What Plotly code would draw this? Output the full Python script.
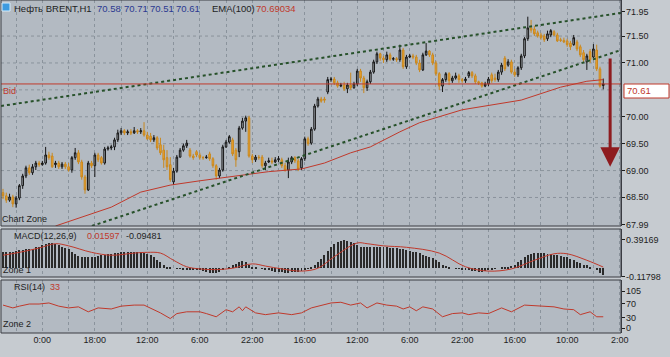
import plotly.graph_objects as go

# ---------------- data ----------------
open_ = [
    68.59, 68.53, 68.45, 68.51, 68.38, 68.49, 68.72, 68.90, 69.05, 68.96,
    69.07, 69.14, 69.11, 69.14, 69.29, 69.27, 69.11, 69.14, 69.07, 69.12,
    69.07, 69.01, 69.24, 69.33, 69.16, 68.88, 68.64, 69.14, 69.09, 69.29,
    69.24, 69.14, 69.40, 69.42, 69.44, 69.57, 69.70, 69.74, 69.70, 69.72,
    69.70, 69.74, 69.72, 69.74, 69.66, 69.64, 69.57, 69.61, 69.48, 69.38,
    69.24, 69.11, 68.79, 68.99, 69.25, 69.38, 69.46, 69.38, 69.27, 69.35,
    69.29, 69.24, 69.24, 69.31, 69.22, 69.09, 68.90, 69.01, 69.44, 69.53,
    69.57, 69.38, 69.35, 69.79, 69.92, 69.98, 69.27, 69.20, 69.25, 69.25,
    69.09, 69.16, 69.18, 69.16, 69.20, 69.20, 69.09, 69.01, 69.16, 69.24,
    69.18, 69.05, 69.22, 69.59, 69.51, 69.77, 70.20, 70.33, 70.33, 70.46,
    70.69, 70.70, 70.63, 70.57, 70.59, 70.52, 70.59, 70.54, 70.61, 70.85,
    70.72, 70.54, 70.65, 70.83, 71.02, 71.17, 71.09, 71.06, 71.15, 71.07,
    71.08, 71.06, 71.24, 70.93, 71.11, 71.13, 71.11, 71.00, 70.87, 71.15,
    71.22, 71.15, 71.00, 70.80, 70.57, 70.69, 70.80, 70.67, 70.72, 70.76,
    70.69, 70.67, 70.76, 70.82, 70.76, 70.65, 70.63, 70.57, 70.61, 70.78,
    70.72, 70.69, 70.83, 71.09, 70.96, 71.02, 70.83, 70.78, 70.91, 71.13,
    71.45, 71.65, 71.63, 71.56, 71.52, 71.50, 71.45, 71.52, 71.58, 71.52,
    71.43, 71.42, 71.41, 71.37, 71.34, 71.39, 71.30, 71.19, 71.02, 71.21,
    71.11, 71.24, 70.89, 70.58,
]
high = [
    68.66, 68.59, 68.57, 68.55, 68.53, 68.75, 68.94, 69.09, 69.11, 69.12,
    69.18, 69.18, 69.18, 69.44, 69.35, 69.33, 69.18, 69.18, 69.16, 69.16,
    69.14, 69.27, 69.42, 69.38, 69.20, 68.92, 69.18, 69.18, 69.33, 69.33,
    69.27, 69.44, 69.46, 69.48, 69.61, 69.76, 69.79, 69.77, 69.76, 69.77,
    69.81, 69.77, 69.79, 69.90, 69.72, 69.70, 69.66, 69.64, 69.61, 69.48,
    69.38, 69.25, 69.05, 69.29, 69.42, 69.50, 69.57, 69.42, 69.31, 69.38,
    69.33, 69.27, 69.29, 69.35, 69.25, 69.12, 69.05, 69.48, 69.57, 69.66,
    69.61, 69.42, 69.83, 69.98, 70.02, 70.02, 69.31, 69.29, 69.29, 69.29,
    69.18, 69.24, 69.24, 69.25, 69.27, 69.24, 69.14, 69.24, 69.27, 69.27,
    69.22, 69.25, 69.63, 69.63, 69.81, 70.24, 70.37, 70.37, 70.37, 70.74,
    70.74, 70.74, 70.67, 70.63, 70.65, 70.63, 70.82, 70.65, 70.89, 70.89,
    70.76, 70.69, 70.87, 71.06, 71.21, 71.19, 71.13, 71.21, 71.19, 71.11,
    71.11, 71.34, 71.28, 71.15, 71.17, 71.17, 71.15, 71.06, 71.19, 71.37,
    71.24, 71.19, 71.04, 70.83, 70.72, 70.83, 70.83, 70.76, 70.82, 70.80,
    70.72, 70.74, 70.85, 70.85, 70.80, 70.67, 70.65, 70.65, 70.74, 70.82,
    70.80, 70.87, 71.00, 71.13, 71.07, 71.06, 70.89, 70.94, 71.17, 71.48,
    71.86, 71.80, 71.69, 71.60, 71.56, 71.54, 71.60, 71.63, 71.61, 71.56,
    71.47, 71.47, 71.45, 71.41, 71.52, 71.43, 71.34, 71.24, 71.17, 71.26,
    71.35, 71.34, 70.93, 70.71,
]
low = [
    68.47, 68.40, 68.42, 68.32, 68.31, 68.45, 68.66, 68.86, 68.92, 68.92,
    69.01, 69.07, 69.09, 69.11, 69.20, 69.05, 69.05, 69.03, 69.03, 69.03,
    68.98, 68.96, 69.20, 69.12, 68.83, 68.57, 68.62, 69.05, 68.88, 69.16,
    69.11, 69.11, 69.37, 69.38, 69.38, 69.53, 69.66, 69.66, 69.66, 69.66,
    69.68, 69.68, 69.68, 69.63, 69.57, 69.53, 69.53, 69.38, 69.29, 69.05,
    69.01, 68.79, 68.73, 68.96, 69.24, 69.35, 69.42, 69.24, 69.20, 69.25,
    69.20, 69.20, 69.22, 69.18, 69.05, 68.83, 68.86, 68.98, 69.42, 69.50,
    69.27, 69.07, 69.25, 69.76, 69.72, 69.24, 69.14, 69.16, 69.20, 69.05,
    69.01, 69.14, 69.12, 69.14, 69.16, 69.05, 68.98, 68.86, 69.12, 69.14,
    68.99, 69.01, 69.18, 69.46, 69.48, 69.74, 70.17, 70.26, 70.26, 70.42,
    70.65, 70.59, 70.54, 70.55, 70.48, 70.44, 70.50, 70.52, 70.57, 70.65,
    70.44, 70.48, 70.61, 70.80, 70.98, 71.04, 71.00, 71.02, 71.04, 71.04,
    71.02, 71.02, 70.89, 70.89, 71.09, 71.07, 70.96, 70.83, 70.85, 71.13,
    71.11, 70.96, 70.76, 70.50, 70.46, 70.65, 70.59, 70.63, 70.69, 70.63,
    70.63, 70.63, 70.72, 70.72, 70.61, 70.59, 70.54, 70.55, 70.57, 70.63,
    70.65, 70.65, 70.78, 70.85, 70.93, 70.80, 70.74, 70.74, 70.87, 71.09,
    71.41, 71.56, 71.50, 71.47, 71.43, 71.39, 71.41, 71.48, 71.50, 71.39,
    71.39, 71.37, 71.30, 71.24, 71.32, 71.22, 71.11, 71.02, 70.87, 71.00,
    71.09, 70.85, 70.54, 70.51,
]
close = [
    68.53, 68.45, 68.51, 68.38, 68.49, 68.72, 68.90, 69.05, 68.96, 69.07,
    69.14, 69.11, 69.14, 69.29, 69.24, 69.07, 69.14, 69.07, 69.12, 69.07,
    69.01, 69.24, 69.33, 69.16, 68.88, 68.64, 69.14, 69.09, 69.29, 69.20,
    69.14, 69.40, 69.42, 69.44, 69.57, 69.70, 69.74, 69.70, 69.72, 69.70,
    69.74, 69.72, 69.74, 69.66, 69.59, 69.57, 69.61, 69.42, 69.33, 69.20,
    69.07, 68.83, 68.99, 69.25, 69.38, 69.46, 69.51, 69.27, 69.24, 69.29,
    69.24, 69.24, 69.25, 69.22, 69.09, 68.90, 69.01, 69.44, 69.53, 69.63,
    69.31, 69.20, 69.79, 69.92, 69.98, 69.27, 69.20, 69.25, 69.24, 69.09,
    69.14, 69.18, 69.16, 69.20, 69.22, 69.09, 69.01, 69.16, 69.24, 69.18,
    69.03, 69.22, 69.59, 69.50, 69.77, 70.20, 70.33, 70.29, 70.31, 70.69,
    70.70, 70.63, 70.57, 70.59, 70.52, 70.59, 70.54, 70.61, 70.85, 70.72,
    70.54, 70.65, 70.83, 71.02, 71.17, 71.09, 71.06, 71.15, 71.07, 71.08,
    71.06, 71.24, 70.93, 71.11, 71.13, 71.11, 71.00, 70.87, 71.15, 71.22,
    71.15, 71.00, 70.80, 70.57, 70.69, 70.80, 70.67, 70.72, 70.76, 70.69,
    70.67, 70.70, 70.82, 70.76, 70.65, 70.63, 70.57, 70.61, 70.70, 70.67,
    70.69, 70.83, 70.96, 70.89, 71.02, 70.83, 70.78, 70.91, 71.13, 71.45,
    71.65, 71.61, 71.54, 71.50, 71.47, 71.43, 71.54, 71.60, 71.52, 71.41,
    71.42, 71.39, 71.34, 71.30, 71.47, 71.26, 71.15, 71.06, 71.13, 71.06,
    71.26, 70.89, 70.57, 70.61,
]
bar_index = list(range(len(close)))

ema_x = [16, 23, 33, 42, 51, 60, 69, 81, 91, 98, 106, 112, 121, 127, 140, 158, 170, 178, 183]
ema_v = [67.97, 68.12, 68.32, 68.60, 68.73, 68.81, 68.88, 68.98, 69.03, 69.14,
         69.33, 69.44, 69.72, 69.89, 70.13, 70.31, 70.55, 70.66, 70.69034]

upper_x = [-0.61, 188.41]
upper_v = [70.20, 71.93]
lower_x = [27.1, 188.41]
lower_v = [67.97, 71.24]

bid_price = 70.61
arrow_x = 185.1
arrow_from = 71.11
arrow_to = 69.07

macd_hist = [
    0.22, 0.22, 0.23, 0.23, 0.24, 0.25, 0.25, 0.26, 0.27, 0.27,
    0.29, 0.30, 0.32, 0.34, 0.35, 0.35, 0.34, 0.32, 0.30, 0.28,
    0.26, 0.23, 0.20, 0.17, 0.16, 0.15, 0.15, 0.16, 0.16, 0.17,
    0.18, 0.19, 0.20, 0.20, 0.21, 0.21, 0.22, 0.22, 0.23, 0.23,
    0.23, 0.22, 0.22, 0.21, 0.20, 0.18, 0.15, 0.12, 0.08, 0.05,
    0.02, 0.01, 0.00, -0.01, -0.01, -0.02, -0.02, -0.02, -0.03, -0.03,
    -0.03, -0.04, -0.05, -0.06, -0.07, -0.06, -0.05, -0.02, 0.00, 0.02,
    0.04, 0.06, 0.09, 0.10, 0.08, 0.04, 0.02, 0.01, 0.00, -0.01,
    -0.02, -0.03, -0.04, -0.05, -0.05, -0.05, -0.06, -0.06, -0.05, -0.05,
    -0.05, -0.04, -0.03, -0.01, 0.02, 0.05, 0.09, 0.13, 0.18, 0.24,
    0.29, 0.33, 0.36, 0.38, 0.39, 0.38, 0.37, 0.35, 0.32, 0.30,
    0.29, 0.29, 0.29, 0.29, 0.29, 0.29, 0.29, 0.29, 0.28, 0.28,
    0.28, 0.27, 0.26, 0.25, 0.24, 0.23, 0.22, 0.21, 0.19, 0.17,
    0.16, 0.14, 0.11, 0.08, 0.05, 0.03, 0.01, 0.00, -0.01, -0.01,
    -0.02, -0.02, -0.03, -0.04, -0.04, -0.05, -0.05, -0.04, -0.03, -0.02,
    -0.01, 0.00, 0.01, 0.02, 0.02, 0.03, 0.05, 0.08, 0.12, 0.15,
    0.18, 0.20, 0.21, 0.21, 0.21, 0.21, 0.20, 0.20, 0.19, 0.18,
    0.17, 0.16, 0.15, 0.13, 0.11, 0.09, 0.07, 0.05, 0.04, 0.02,
    0.00, -0.03, -0.06, -0.09481,
]
signal_x = [0, 5, 11, 16, 20, 27, 33, 40, 44, 48, 52, 56, 60, 65, 70, 76, 80, 85, 91,
            96, 101, 108, 111, 116, 123, 133, 141, 148, 155, 162, 168, 172, 178, 183]
signal_v = [0.18, 0.22, 0.28, 0.34, 0.31, 0.22, 0.18, 0.21, 0.22, 0.21, 0.11, 0.02, -0.01,
            -0.02, 0.00, 0.06, 0.03, -0.01, -0.04, 0.00, 0.16, 0.35, 0.34, 0.31, 0.29, 0.21,
            0.02, -0.04, -0.01, 0.11, 0.20, 0.20, 0.11, 0.01597]

rsi_x = [0, 3, 5, 8, 11, 14, 17, 20, 23, 26, 29, 33, 36, 40, 43, 45, 48, 51, 53, 56, 60,
         62, 65, 68, 70, 72, 73, 74, 77, 80, 84, 88, 91, 94, 97, 100, 103, 106, 109, 111,
         114, 117, 120, 122, 124, 126, 128, 131, 134, 137, 140, 142, 145, 148, 152, 155,
         159, 163, 168, 171, 174, 176, 179, 181, 183]
rsi_v = [66, 58, 63, 69, 69, 72, 63, 58, 61, 47, 58, 55, 63, 66, 66, 58, 44, 28, 42, 47, 47,
         42, 33, 53, 47, 61, 50, 61, 44, 39, 44, 39, 44, 58, 66, 72, 74, 66, 72, 58,
         72, 66, 63, 55, 61, 50, 61, 55, 33, 42, 44, 39, 44, 42, 58, 47,
         66, 63, 61, 55, 53, 39, 47, 33, 33]

x_tick_pos = [12, 28, 44, 60, 76, 92, 108, 124, 140, 156, 172, 188]
x_tick_text = ["0:00", "18:00", "12:00", "6:00", "22:00", "16:00",
               "12:00", "6:00", "22:00", "16:00", "10:00", "2:00"]
price_ticks = [67.99, 68.50, 69.00, 69.50, 70.00, 71.00, 71.50, 71.95]
price_grid = [68.50, 69.00, 69.50, 70.00, 70.50, 71.00, 71.50]
macd_ticks = [-0.11798, 0.39169]
rsi_ticks = [0, 30, 70, 105]

# ---------------- layout helpers ----------------
W, H = 670, 357
ML, MR, MT, MB = 1, 49, 0, 24
PW, PH = W - ML - MR, H - MT - MB


def fx(px):
    return (px - ML) / PW


def fy(py):
    return 1 - (py - MT) / PH


FONT = "Liberation Sans"
FS = 9
RED = "#c0392b"
BLUE = "#2b3990"
DARK = "#1e1e1e"
GRID = "#8a939c"
FRAME = "#3a3d42"

main_dom = [fy(226), 1.0]
macd_dom = [fy(277), fy(229)]
rsi_dom = [0.0, fy(280)]

fig = go.Figure()

fig.add_trace(go.Candlestick(
    x=bar_index, open=open_, high=high, low=low, close=close,
    increasing=dict(line=dict(color="#161616", width=1), fillcolor="#a3a9af"),
    decreasing=dict(line=dict(color="#c9881f", width=1), fillcolor="#f2a62e"),
    whiskerwidth=0, xaxis="x", yaxis="y", hoverinfo="skip", showlegend=False,
))
fig.add_trace(go.Scatter(x=ema_x, y=ema_v, mode="lines", line=dict(color=RED, width=1),
                         xaxis="x", yaxis="y", hoverinfo="skip", showlegend=False))
for tx, tv in ((upper_x, upper_v), (lower_x, lower_v)):
    fig.add_trace(go.Scatter(x=tx, y=tv, mode="lines",
                             line=dict(color="#27512a", width=2, dash="dot"),
                             xaxis="x", yaxis="y", hoverinfo="skip", showlegend=False))

fig.add_trace(go.Bar(x=bar_index, y=macd_hist, width=0.3, marker=dict(color="#2a2a2a", line=dict(width=0)),
                     xaxis="x", yaxis="y2", hoverinfo="skip", showlegend=False))
fig.add_trace(go.Scatter(x=signal_x, y=signal_v, mode="lines", line=dict(color=RED, width=1, shape="spline"),
                         xaxis="x", yaxis="y2", hoverinfo="skip", showlegend=False))
fig.add_trace(go.Scatter(x=rsi_x, y=rsi_v, mode="lines", line=dict(color=RED, width=1),
                         xaxis="x", yaxis="y3", hoverinfo="skip", showlegend=False))

shapes = []
for g in price_grid:
    shapes.append(dict(type="line", xref="paper", yref="y", x0=0, x1=1, y0=g, y1=g,
                       line=dict(color=GRID, width=1, dash="3px,3px"), layer="below"))
shapes.append(dict(type="line", xref="paper", yref="y", x0=0, x1=1, y0=bid_price, y1=bid_price,
                   line=dict(color=RED, width=1)))
for d in (main_dom, macd_dom, rsi_dom):
    shapes.append(dict(type="rect", xref="paper", yref="paper", x0=0, x1=1, y0=d[0], y1=d[1],
                       line=dict(color=FRAME, width=1)))
shapes.append(dict(type="rect", xref="paper", yref="paper", x0=fx(624), x1=fx(669), y0=fy(98), y1=fy(84),
                   fillcolor="white", line=dict(color=RED, width=1)))
shapes.append(dict(type="rect", xref="paper", yref="paper", x0=fx(2), x1=fx(10), y0=fy(11), y1=fy(3),
                   fillcolor="#3d9be0", line=dict(color="#d6ecfb", width=1)))

ann = []


def txt(x, y, s, color=DARK, size=FS, anchor="left"):
    ann.append(dict(xref="paper", yref="paper", x=fx(x), y=fy(y), text=s, showarrow=False,
                    xanchor=anchor, yanchor="middle", font=dict(family=FONT, size=size, color=color)))


def axis_label(yref, value, text):
    ann.append(dict(xref="paper", yref=yref, x=fx(624), y=value, text=text, showarrow=False,
                    xanchor="left", yanchor="middle",
                    font=dict(family=FONT, size=FS, color=DARK)))


txt(12, 8, "Нефть BRENT,H1", size=9.5)
txt(95, 8, "70.58", BLUE, 9.5)
txt(122, 8, "70.71", BLUE, 9.5)
txt(148, 8, "70.51", BLUE, 9.5)
txt(174, 8, "70.61", BLUE, 9.5)
txt(210, 8, "EMA(100)", size=9.5)
txt(254, 8, "70.69034", RED, 9.5)
txt(1, 91, "Bid", RED)
txt(0, 219, "Chart Zone")
txt(12, 236, "MACD(12,26,9)")
txt(85, 236, "0.01597", RED)
txt(124, 236, "-0.09481")
txt(1, 270, "Zone 1")
txt(12, 287, "RSI(14)")
txt(48, 287, "33", RED)
txt(1, 324, "Zone 2")
txt(625, 91, "70.61", RED, 9.5)

for v in price_ticks:
    axis_label("y", v, f"{v:.2f}")
for v, t in zip(macd_ticks, ["-0.11798", "0.39169"]):
    axis_label("y2", v, t)
for v in rsi_ticks:
    axis_label("y3", v, str(v))

ann.append(dict(x=arrow_x, y=arrow_to, ax=arrow_x, ay=arrow_from, xref="x", yref="y",
                axref="x", ayref="y", showarrow=True, arrowhead=2, arrowsize=1.3,
                arrowwidth=3, arrowcolor="#8e1b1f", text=""))

tickfont = dict(family=FONT, size=FS, color=DARK)
yax_common = dict(side="right", anchor="x", tickmode="array", ticks="outside", ticklen=3,
                  tickcolor=DARK, showticklabels=False, showgrid=False, zeroline=False,
                  showline=True, linecolor=FRAME)
fig.update_layout(
    width=W, height=H,
    margin=dict(l=ML, r=MR, t=MT, b=MB),
    paper_bgcolor="#c6cbd0", plot_bgcolor="#b3bac2",
    showlegend=False, bargap=0,
    shapes=shapes, annotations=ann,
    xaxis=dict(domain=[0, 1], range=[-0.61, 188.41], anchor="y3",
               tickmode="array", tickvals=x_tick_pos, ticktext=x_tick_text,
               showgrid=True, gridcolor=GRID, griddash="3px,3px", gridwidth=1,
               minor=dict(tickmode="linear", tick0=4, dtick=16, showgrid=True,
                          gridcolor=GRID, griddash="3px,3px", gridwidth=1),
               ticks="", tickfont=tickfont, zeroline=False, showline=False,
               rangeslider=dict(visible=False), fixedrange=True),
    yaxis=dict(domain=main_dom, range=[67.97, 72.17], tickvals=price_ticks, **yax_common),
    yaxis2=dict(domain=macd_dom, range=[-0.122, 0.544], tickvals=macd_ticks, **yax_common),
    yaxis3=dict(domain=rsi_dom, range=[-12.8, 136.8], tickvals=rsi_ticks, **yax_common),
)

fig.write_html("out.html", config={"displayModeBar": False},
               post_script="document.body.style.margin='0';document.body.style.overflow='hidden';")
